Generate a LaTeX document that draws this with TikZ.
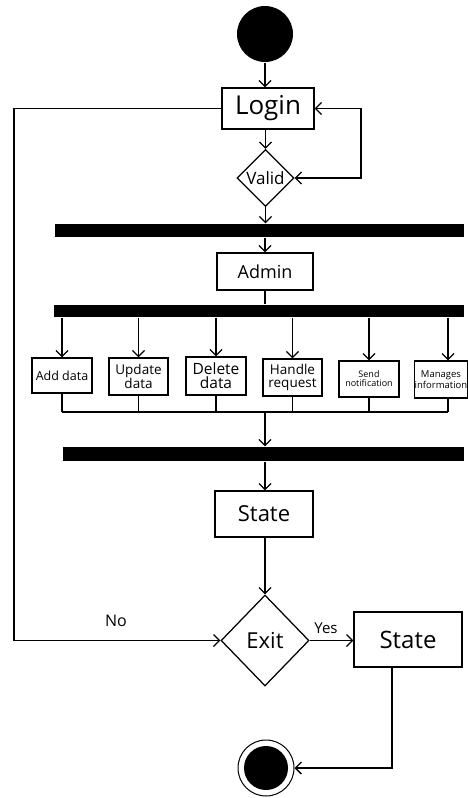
\documentclass[tikz,border=0pt]{standalone}
\usepackage{fontspec}
\setmainfont{Open Sans}
\usetikzlibrary{arrows.meta,shapes.geometric}
\begin{document}
\begin{tikzpicture}[x=1pt,y=-1pt,line width=1.25pt,
  ar/.style={-{Straight Barb[length=6pt,width=12pt]}},
  box/.style={draw,inner sep=0pt,align=center},
  bar/.style={fill=black,inner sep=0pt},
  dia/.style={draw,diamond,inner sep=0pt,align=center},
  fs/.style={font=\fontsize{#1}{#1}\selectfont}]
\useasboundingbox (0,0) rectangle (468,798);
% nodes
\node[circle,fill=black,minimum size=56pt,inner sep=0pt] (start) at (265,34) {};
\node[box,minimum width=92pt,minimum height=41pt,fs=26] (login) at (268,108.5) {Login};
\node[dia,minimum width=57pt,minimum height=57pt,fs=17] (valid) at (265.5,178) {Valid};
\node[bar,minimum width=409pt,minimum height=13pt] (bar1) at (259.5,230.5) {};
\node[box,minimum width=96pt,minimum height=37pt,fs=18] (admin) at (265,271.5) {Admin};
\node[bar,minimum width=410pt,minimum height=12pt] (bar2) at (259,311) {};
\node[box,minimum width=60pt,minimum height=35pt,fs=12.5] (add) at (62,375.5) {Add data};
\node[box,minimum width=59pt,minimum height=37pt,font=\fontsize{13.5}{13}\selectfont] (upd) at (138.5,376.5) {Update\\data};
\node[box,minimum width=60pt,minimum height=38pt,font=\fontsize{15.5}{14}\selectfont] (del) at (216,376) {Delete\\data};
\node[box,minimum width=59pt,minimum height=37pt,font=\fontsize{13.5}{13}\selectfont] (han) at (292.5,377.5) {Handle\\request};
\node[box,minimum width=60pt,minimum height=36pt,font=\fontsize{9}{9}\selectfont] (snd) at (369,379) {Send\\notification};
\node[box,minimum width=50pt,minimum height=37pt,font=\fontsize{9.5}{9.5}\selectfont] (man) at (441,379.5) {Manages\\information};
\node[bar,minimum width=401pt,minimum height=14pt] (bar3) at (263.5,454) {};
\node[box,minimum width=98pt,minimum height=46pt,fs=22] (st1) at (264,514) {State};
\node[dia,minimum width=88pt,minimum height=91pt,fs=22] (exit) at (265,640.5) {Exit};
\node[box,minimum width=108pt,minimum height=55pt,fs=24] (st2) at (408,639.5) {State};
\node[circle,draw,line width=1pt,minimum size=56pt,inner sep=0pt] (fin) at (266,768) {};
\node[circle,fill=black,minimum size=44pt,inner sep=0pt] (finin) at (fin) {};
\node[fs=16] (no) at (116,621) {No};
\node[fs=15] (yes) at (326,628) {Yes};
% coordinates
\coordinate (lx) at (14,0);
\coordinate (rx) at (361,0);
\coordinate (mx) at (448,0);
\coordinate (sx) at (392,0);
\coordinate (col) at (265,412);
% connectors
\draw[ar] (start.south) -- (start.south |- login.north);
\draw[ar] (login.south -| valid) -- (valid.north);
\draw[{Straight Barb[length=6pt,width=12pt]}-{Straight Barb[length=6pt,width=12pt]}] (valid.east) -| (rx |- login.east) -- (login.east);
\draw[ar] (login.west) -| (lx |- exit.west) -- (exit.west);
\draw[ar] (valid.south) -- (valid.south |- bar1.north);
\draw[ar] (admin.north |- bar1.south) -- (admin.north);
\draw (admin.south) -- (admin.south |- bar2.north);
\foreach \b in {add,upd,del,han,snd}{
  \draw[ar] (\b.north |- bar2.south) -- (\b.north);
  \draw (\b.south) -- (\b.south |- col);
}
\draw[ar] (mx |- bar2.south) -- (mx |- man.north);
\draw (mx |- man.south) -- (mx |- col);
\draw (add.south |- col) -- (mx |- col);
\draw[ar] (col) -- (col |- bar3.north);
\draw[ar] (col |- bar3.south) -- (col |- st1.north);
\draw[ar] (exit.north |- st1.south) -- (exit.north);
\draw[ar] (exit.east) -- (st2.west |- exit.east);
\draw[ar] (sx |- st2.south) |- (fin.east);
\end{tikzpicture}
\end{document}
